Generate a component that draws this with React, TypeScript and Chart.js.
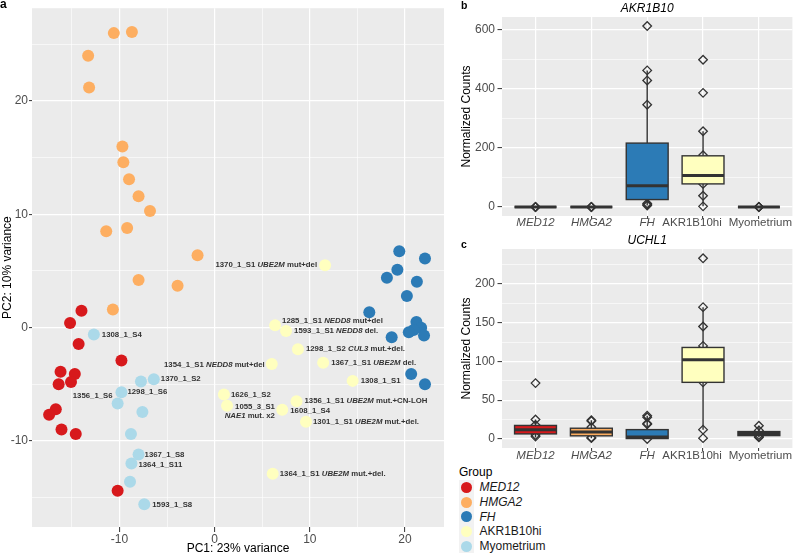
import React, { useEffect, useRef } from "react";
import { Chart, registerables } from "chart.js";
Chart.register(...registerables);

const FONT = "'Liberation Sans', Arial, Helvetica, sans-serif";

// ---------- groups ----------
const groups = ["MED12", "HMGA2", "FH", "AKR1B10hi", "Myometrium"];
const italicGroups = ["MED12", "HMGA2", "FH"];
const groupColors = ["#D7191C", "#FDAE61", "#2C7BB6", "#FFFFBF", "#ABD9E9"];
// horizontal nudge of the category labels (px, layout only; keeps the two long labels apart)
const groupLabelShift = [0, 0, 0, -11, 1.5];

// ---------- panel a: PCA (PC1, PC2) ----------
const med12PC = [[-14.0, 1.5], [-15.2, 0.4], [-14.3, -1.45], [-9.8, -2.9], [-16.2, -3.9], [-14.7, -4.1], [-16.4, -5.0], [-15.1, -4.8], [-16.7, -7.2], [-17.4, -7.7], [-16.1, -9.0], [-14.6, -9.4], [-10.2, -14.4]];
const hmga2PC = [[-10.6, 26.0], [-8.7, 26.1], [-13.3, 24.0], [-13.2, 21.2], [-9.7, 16.0], [-9.6, 14.6], [-9.0, 13.1], [-8.0, 11.6], [-6.8, 10.3], [-11.4, 8.5], [-9.2, 8.8], [-1.8, 6.4], [-8.0, 4.2], [-3.9, 3.7], [-10.7, 1.6]];
const fhPC = [[19.4, 6.75], [22.1, 6.1], [19.2, 5.1], [18.1, 4.4], [21.25, 4.05], [20.2, 2.8], [16.25, 1.35], [21.2, 0.5], [21.7, 0.0], [20.9, -0.2], [20.4, -0.4], [22.0, -0.7], [18.6, -0.85], [20.65, -4.1], [22.1, -5.0]];
const akrPC = [[11.6, 5.5], [6.35, 0.2], [7.5, -0.3], [8.75, -1.9], [6.0, -3.2], [11.4, -3.1], [14.5, -4.7], [0.97, -5.9], [1.3, -6.9], [8.6, -6.5], [7.1, -7.25], [9.6, -8.3], [6.1, -12.9]];
const myoPC = [[-12.7, -0.6], [-7.75, -4.75], [-6.4, -4.55], [-9.8, -5.7], [-10.2, -6.7], [-7.6, -7.45], [-8.8, -9.4], [-8.0, -11.2], [-8.75, -12.0], [-8.9, -13.6], [-7.4, -15.6]];
const pcaSeries = [med12PC, hmga2PC, fhPC, akrPC, myoPC];

const pc1Range = [-19.2, 24.1];
const pc2Range = [-17.6, 28.2];
const pc1Major = [-10, 0, 10, 20];
const pc1Minor = [-15, -5, 5, 15];
const pc2Major = [-10, 0, 10, 20];
const pc2Minor = [-15, -5, 5, 15, 25];

// sample labels: [group index, point index, text]  (*x* = italic, | = new line)
const sampleLabels: [number, number, string][] = [
  [3, 0, "1370_1_S1 *UBE2M* mut+del"],
  [3, 1, "1285_1_S1 *NEDD8* mut+del"],
  [3, 2, "1593_1_S1 *NEDD8* del."],
  [3, 3, "1298_1_S2 *CUL3* mut.+del."],
  [3, 4, "1354_1_S1 *NEDD8* mut+del"],
  [3, 5, "1367_1_S1 *UBE2M* del."],
  [3, 6, "1308_1_S1"],
  [3, 7, "1626_1_S2"],
  [3, 8, "1055_3_S1|*NAE1* mut. x2"],
  [3, 9, "1356_1_S1 *UBE2M* mut.+CN-LOH"],
  [3, 10, "1608_1_S4"],
  [3, 11, "1301_1_S1 *UBE2M* mut.+del."],
  [3, 12, "1364_1_S1 *UBE2M* mut.+del."],
  [4, 0, "1308_1_S4"],
  [4, 2, "1370_1_S2"],
  [4, 3, "1298_1_S6"],
  [4, 4, "1356_1_S6"],
  [4, 7, "1367_1_S8"],
  [4, 8, "1364_1_S11"],
  [4, 10, "1593_1_S8"],
];
// label placement (pixels, layout only): dx>0 left-aligned right of point, dx<0 right-aligned left of point
const labelDx = [-8, 7, 8, 8, -7, 8, 8, 7, 8, 8, 8, 7, 7, 8, 7, 6, -5, 6, 7, 8];
const labelDy = [0, -5, 0, 0, 1, 0, 0, 0, 1.5, 0, 1.3, 0, 0, 0, 0, -0.5, -8, 0, 1, 0.5];

// ---------- panel b: AKR1B10 ----------
const akrLower = [0, 0, 5, 2, 0];
const akrQ1 = [0, 0, 25, 78, 0];
const akrMedian = [0, 0, 72, 106, 0];
const akrQ3 = [0, 0, 216, 173, 0];
const akrUpper = [0, 0, 462, 256, 0];
const akrPtsMED12 = [0, 0, 0];
const akrPtsHMGA2 = [0, 0, 0];
const akrPtsFH = [612, 462, 428, 346, 12, 8, 5];
const akrPtsAKR = [498, 386, 256, 175, 78, 38, 2];
const akrPtsMyo = [0, 0, 0];
const akrRange = [-30.6, 642.6];
const akrMajor = [0, 200, 400, 600];
const akrMinor = [100, 300, 500];

// ---------- panel c: UCHL1 ----------
const uchLower = [2, 1, 0, 12, 2];
const uchQ1 = [6.5, 4, 0.5, 73, 4.3];
const uchMedian = [12, 9, 2.5, 102, 7];
const uchQ3 = [17.4, 13.8, 12, 118, 9.5];
const uchUpper = [25, 24, 30, 170, 17];
const uchPtsMED12 = [72, 25, 18, 5, 3];
const uchPtsHMGA2 = [24, 23, 15, 2, 1];
const uchPtsFH = [30, 28, 20, 19, 0];
const uchPtsAKR = [233, 170, 145, 120, 73, 12, 1];
const uchPtsMyo = [17, 11, 5, 3, 2];
const uchRange = [-11.7, 245];
const uchMajor = [0, 50, 100, 150, 200];
const uchMinor = [25, 75, 125, 175, 225];

// ---------- helpers ----------
function drawRich(ctx: CanvasRenderingContext2D, text: string, x: number, y: number, align: "left" | "right", size: number, color: string) {
  const segs = text.split("*");
  const fonts = segs.map((_, k) => `${k % 2 ? "italic " : ""}bold ${size}px ${FONT}`);
  const widths = segs.map((s, k) => {
    ctx.font = fonts[k];
    return ctx.measureText(s).width;
  });
  const total = widths.reduce((a, b) => a + b, 0);
  let cx = align === "left" ? x : x - total;
  ctx.textBaseline = "middle";
  ctx.textAlign = "left";
  ctx.fillStyle = color;
  segs.forEach((s, k) => {
    ctx.font = fonts[k];
    ctx.fillText(s, cx, y);
    cx += widths[k];
  });
  return total;
}

function measureRich(ctx: CanvasRenderingContext2D, text: string, size: number) {
  return text.split("*").reduce((acc, s, k) => {
    ctx.font = `${k % 2 ? "italic " : ""}bold ${size}px ${FONT}`;
    return acc + ctx.measureText(s).width;
  }, 0);
}

function linScale(range: number[], major: number[], minor: number[], fit: (s: any) => void, tickLength: number, padding: number) {
  return {
    type: "linear" as const,
    min: range[0],
    max: range[1],
    afterBuildTicks: (s: any) => {
      s.ticks = [...major, ...minor].sort((a, b) => a - b).map((v) => ({ value: v }));
    },
    afterFit: fit,
    border: { display: false },
    grid: {
      color: "#FFFFFF",
      lineWidth: (c: any) => (c.tick && major.includes(c.tick.value) ? 1.2 : 0.6),
      tickColor: (c: any) => (c.tick && major.includes(c.tick.value) ? "#333333" : "rgba(0,0,0,0)"),
      tickLength,
      tickWidth: 1,
      drawTicks: true,
    },
    ticks: {
      autoSkip: false,
      maxRotation: 0,
      minRotation: 0,
      color: "#4D4D4D",
      font: { family: FONT, size: 12 },
      padding,
      callback: (v: any) => (major.includes(v) ? String(v) : ""),
    },
  };
}

const bgPlugin = {
  id: "panelBg",
  beforeDraw(chart: any) {
    const { ctx, chartArea: a } = chart;
    ctx.save();
    ctx.fillStyle = "#EBEBEB";
    ctx.fillRect(a.left, a.top, a.right - a.left, a.bottom - a.top);
    ctx.restore();
  },
};

function pcaConfig(): any {
  const labelPlugin = {
    id: "pcaText",
    afterDatasetsDraw(chart: any) {
      const { ctx, chartArea: a } = chart;
      ctx.save();
      sampleLabels.forEach(([g, p, text], k) => {
        const el = chart.getDatasetMeta(g).data[p];
        const px = el.x;
        const py = el.y + labelDy[k];
        const dx = labelDx[k];
        const lines = text.split("|");
        if (lines.length === 1) {
          drawRich(ctx, text, px + dx, py, dx > 0 ? "left" : "right", 7.8, "#333333");
        } else {
          const right = px + dx + measureRich(ctx, lines[0], 7.8);
          lines.forEach((ln, j) => drawRich(ctx, ln, right, py + j * 9, "right", 7.8, "#333333"));
        }
      });
      // axis titles & panel letter
      ctx.fillStyle = "#000000";
      ctx.font = `12px ${FONT}`;
      ctx.textAlign = "center";
      ctx.textBaseline = "middle";
      ctx.fillText("PC1: 23% variance", (a.left + a.right) / 2, 549);
      ctx.save();
      ctx.translate(8, (a.top + a.bottom) / 2);
      ctx.rotate(-Math.PI / 2);
      ctx.fillText("PC2: 10% variance", 0, 0);
      ctx.restore();
      ctx.font = `bold 12px ${FONT}`;
      ctx.textAlign = "left";
      ctx.fillText("a", 0, 5);
      ctx.restore();
    },
  };
  return {
    type: "scatter",
    data: {
      datasets: pcaSeries.map((pts, i) => ({
        label: groups[i],
        data: pts.map(([x, y]) => ({ x, y })),
        backgroundColor: groupColors[i],
        borderWidth: 0,
        pointRadius: 6,
        pointHoverRadius: 6,
      })),
    },
    options: {
      animation: false,
      responsive: false,
      events: [],
      layout: { padding: { top: 0, right: 2, left: 0, bottom: 0 } },
      plugins: { legend: { display: false }, tooltip: { enabled: false } },
      scales: {
        x: linScale(pc1Range, pc1Major, pc1Minor, (s: any) => { s.height = 27; }, 5, 0),
        y: linScale(pc2Range, pc2Major, pc2Minor, (s: any) => { s.width = 32; }, 3, 1),
      },
    },
    plugins: [bgPlugin, labelPlugin],
  };
}

function boxConfig(lower: number[], q1: number[], med: number[], q3: number[], upper: number[], pts: number[][], range: number[], major: number[], minor: number[], title: string, letter: string, letterY: number, labelGap: number): any {
  const boxPlugin = {
    id: "boxes",
    afterDatasetsDraw(chart: any) {
      const { ctx, chartArea: a } = chart;
      const xs = chart.scales.x;
      const ys = chart.scales.y;
      ctx.save();
      groups.forEach((g, i) => {
        const cx = xs.getPixelForValue(i);
        const hw = Math.abs(xs.getPixelForValue(i + 0.375) - cx);
        const yLo = ys.getPixelForValue(lower[i]);
        const yQ1 = ys.getPixelForValue(q1[i]);
        const yMed = ys.getPixelForValue(med[i]);
        const yQ3 = ys.getPixelForValue(q3[i]);
        const yHi = ys.getPixelForValue(upper[i]);
        ctx.strokeStyle = "#333333";
        ctx.lineWidth = 1.4;
        ctx.beginPath();
        ctx.moveTo(cx, yQ3);
        ctx.lineTo(cx, yHi);
        ctx.moveTo(cx, yQ1);
        ctx.lineTo(cx, yLo);
        ctx.stroke();
        ctx.fillStyle = groupColors[i];
        ctx.fillRect(cx - hw, yQ3, 2 * hw, yQ1 - yQ3);
        ctx.strokeRect(cx - hw, yQ3, 2 * hw, yQ1 - yQ3);
        ctx.lineWidth = 3;
        ctx.beginPath();
        ctx.moveTo(cx - hw, yMed);
        ctx.lineTo(cx + hw, yMed);
        ctx.stroke();
        // category label
        ctx.fillStyle = "#4D4D4D";
        ctx.textAlign = "center";
        ctx.textBaseline = "middle";
        ctx.font = `${italicGroups.includes(g) ? "italic " : ""}11.5px ${FONT}`;
        ctx.fillText(g, cx + groupLabelShift[i], a.bottom + labelGap);
      });
      ctx.fillStyle = "#000000";
      ctx.textBaseline = "middle";
      ctx.textAlign = "center";
      ctx.font = `italic 12px ${FONT}`;
      ctx.fillText(title, (a.left + a.right) / 2, 8.5);
      ctx.font = `12px ${FONT}`;
      ctx.save();
      ctx.translate(16.5, (a.top + a.bottom) / 2);
      ctx.rotate(-Math.PI / 2);
      ctx.fillText("Normalized Counts", 0, 0);
      ctx.restore();
      ctx.font = `bold 10.5px ${FONT}`;
      ctx.textAlign = "left";
      ctx.fillText(letter, 11, letterY);
      ctx.restore();
    },
  };
  const xScale: any = linScale([-0.6, 4.6], groups.map((_, i) => i), [], (s: any) => { s.height = 16; }, 3, 1);
  xScale.grid.lineWidth = 1.2;
  xScale.ticks.callback = () => "";
  return {
    type: "scatter",
    data: {
      datasets: [
        {
          data: pts.flatMap((arr, i) => arr.map((v) => ({ x: i, y: v }))),
          pointStyle: "rectRot",
          pointRadius: 4.3,
          pointHoverRadius: 4.3,
          borderColor: "#333333",
          borderWidth: 1.3,
          backgroundColor: "rgba(0,0,0,0)",
        },
      ],
    },
    options: {
      animation: false,
      responsive: false,
      events: [],
      layout: { padding: { top: 17, right: 0.5, left: 0, bottom: 0 } },
      plugins: { legend: { display: false }, tooltip: { enabled: false } },
      scales: {
        x: xScale,
        y: linScale(range, major, minor, (s: any) => { s.width = 52; }, 4.5, 2.5),
      },
    },
    plugins: [bgPlugin, boxPlugin],
  };
}

export default function App() {
  const aRef = useRef<HTMLCanvasElement>(null);
  const bRef = useRef<HTMLCanvasElement>(null);
  const cRef = useRef<HTMLCanvasElement>(null);
  useEffect(() => {
    const a = new Chart(aRef.current!, pcaConfig());
    const b = new Chart(
      bRef.current!,
      boxConfig(akrLower, akrQ1, akrMedian, akrQ3, akrUpper, [akrPtsMED12, akrPtsHMGA2, akrPtsFH, akrPtsAKR, akrPtsMyo], akrRange, akrMajor, akrMinor, "AKR1B10", "b", 6, 6.5)
    );
    const c = new Chart(
      cRef.current!,
      boxConfig(uchLower, uchQ1, uchMedian, uchQ3, uchUpper, [uchPtsMED12, uchPtsHMGA2, uchPtsFH, uchPtsAKR, uchPtsMyo], uchRange, uchMajor, uchMinor, "UCHL1", "c", 13, 8)
    );
    return () => {
      a.destroy();
      b.destroy();
      c.destroy();
    };
  }, []);
  return (
    <div style={{ position: "fixed", left: 0, top: 0, width: 798, height: 554, background: "#FFFFFF", fontFamily: FONT, overflow: "hidden" }}>
      <canvas ref={aRef} width={450} height={554} style={{ position: "absolute", left: 0, top: 0, width: 450, height: 554 }} />
      <canvas ref={bRef} width={348} height={232} style={{ position: "absolute", left: 450, top: 0, width: 348, height: 232 }} />
      <canvas ref={cRef} width={348} height={232} style={{ position: "absolute", left: 450, top: 232, width: 348, height: 232 }} />
      <div style={{ position: "absolute", left: 459, top: 464.5, fontSize: 12, lineHeight: "14px", color: "#000" }}>Group</div>
      {groups.map((g, i) => (
        <div key={g} style={{ position: "absolute", left: 458.5, top: 480 + i * 14.7, height: 14.7, display: "flex", alignItems: "center" }}>
          <div style={{ width: 15, height: 14.7, background: "#F2F2F2", position: "relative" }}>
            <div style={{ position: "absolute", left: 2, top: 1.85, width: 11, height: 11, borderRadius: "50%", background: groupColors[i] }} />
          </div>
          <span style={{ marginLeft: 6, fontSize: 12, lineHeight: "14px", color: "#1A1A1A", fontStyle: italicGroups.includes(g) ? "italic" : "normal" }}>{g}</span>
        </div>
      ))}
    </div>
  );
}
